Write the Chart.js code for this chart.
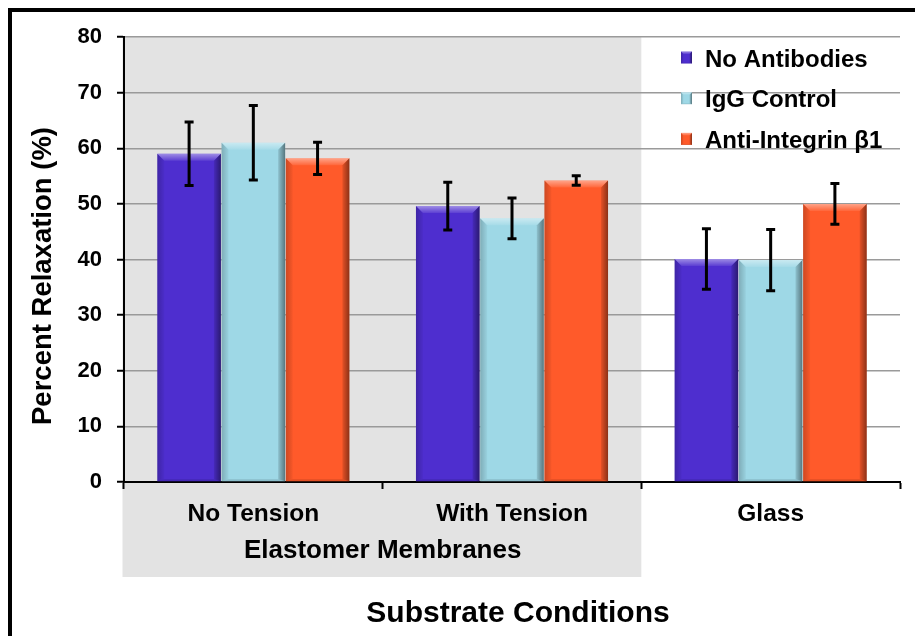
<!DOCTYPE html>
<html>
<head>
<meta charset="utf-8">
<script src="https://cdn.jsdelivr.net/npm/chart.js@4.4.1/dist/chart.umd.min.js"></script>
<style>
  html, body { margin: 0; padding: 0; background: #fff; overflow: hidden; }
  #wrap { position: relative; width: 915px; height: 636px; }
  #frame { position: absolute; left: 8px; top: 8px; width: 2000px; height: 2000px; border: 4px solid #000; pointer-events: none; }
</style>
</head>
<body>
<div id="wrap">
  <canvas id="chart" width="915" height="636"></canvas>
  <div id="frame"></div>
</div>
<script>
const FONT = "'Liberation Sans', Arial, sans-serif";

// chart data
const categories = ['No Tension', 'With Tension', 'Glass'];
const seriesNames = ['No Antibodies', 'IgG Control', 'Anti-Integrin β1'];
const noAntibodies = [59.0, 49.6, 40.1];
const igGControl = [61.0, 47.4, 39.9];
const antiIntegrin = [58.2, 54.2, 50.0];
const noAntibodiesErr = [5.7, 4.3, 5.45];
const igGControlErr = [6.7, 3.65, 5.5];
const antiIntegrinErr = [2.9, 0.85, 3.65];
const seriesColors = ['#4e2ecf', '#9ed8e6', '#ff5a2a'];
const groupLabel = 'Elastomer Membranes';
const groupCount = 2; // first two categories are membranes
const xTitle = 'Substrate Conditions';
const yTitle = 'Percent Relaxation (%)';

// shaded panel behind the membrane categories, plus axis titles
const panelPlugin = {
  id: 'panel',
  beforeDraw(chart) {
    const { ctx, chartArea, scales: { x } } = chart;
    const edge = (x.getPixelForValue(groupCount - 1) + x.getPixelForValue(groupCount)) / 2;
    ctx.save();
    ctx.fillStyle = '#e3e3e3';
    ctx.fillRect(chartArea.left - 1.5, chartArea.top, edge - chartArea.left + 1.5, chartArea.bottom - chartArea.top + 95);
    ctx.restore();
  },
  afterDraw(chart) {
    const { ctx, chartArea, scales: { x } } = chart;
    const edge = (x.getPixelForValue(groupCount - 1) + x.getPixelForValue(groupCount)) / 2;
    ctx.save();
    ctx.fillStyle = '#000';
    ctx.textAlign = 'center';
    ctx.textBaseline = 'alphabetic';
    ctx.font = 'bold 26px ' + FONT;
    ctx.fillText(groupLabel, (chartArea.left + edge) / 2, chartArea.bottom + 76);
    ctx.font = 'bold 30px ' + FONT;
    ctx.fillText(xTitle, 518, 622);
    ctx.translate(51, 276);
    ctx.rotate(-Math.PI / 2);
    ctx.font = 'bold 27.5px ' + FONT;
    ctx.fillText(yTitle, 0, 0);
    ctx.restore();
  }
};

function shade(ctx, pts, style) {
  ctx.beginPath();
  ctx.moveTo(pts[0][0], pts[0][1]);
  for (let i = 1; i < pts.length; i++) ctx.lineTo(pts[i][0], pts[i][1]);
  ctx.closePath();
  ctx.fillStyle = style;
  ctx.fill();
}

// bevelled look on each bar
function bevel(ctx, l, t, r, b, s) {
  let g = ctx.createLinearGradient(0, t, 0, t + s);
  g.addColorStop(0, 'rgba(255,255,255,0.45)');
  g.addColorStop(0.4, 'rgba(255,255,255,0.3)');
  g.addColorStop(1, 'rgba(255,255,255,0.08)');
  shade(ctx, [[l, t], [r, t], [r - s, t + s], [l + s, t + s]], g);
  g = ctx.createLinearGradient(r - s, 0, r, 0);
  g.addColorStop(0, 'rgba(0,0,0,0.1)');
  g.addColorStop(1, 'rgba(0,0,0,0.45)');
  shade(ctx, [[r, t], [r, b], [r - s, b - s * 0.3], [r - s, t + s]], g);
  g = ctx.createLinearGradient(l, 0, l + s, 0);
  g.addColorStop(0, 'rgba(0,0,0,0.2)');
  g.addColorStop(1, 'rgba(0,0,0,0.03)');
  shade(ctx, [[l, t], [l + s, t + s], [l + s, b - s * 0.3], [l, b]], g);
  shade(ctx, [[l, b], [l + s, b - s * 0.3], [r - s, b - s * 0.3], [r, b]], 'rgba(0,0,0,0.12)');
}

const barPlugin = {
  id: 'barStyle',
  afterDatasetsDraw(chart) {
    const { ctx, scales: { y } } = chart;
    ctx.save();
    chart.data.datasets.forEach((ds, i) => {
      chart.getDatasetMeta(i).data.forEach(el => {
        const p = el.getProps(['x', 'y', 'base', 'width'], true);
        bevel(ctx, p.x - p.width / 2, p.y, p.x + p.width / 2, p.base, 7);
      });
    });
    // error bars
    ctx.strokeStyle = '#000';
    ctx.lineWidth = 3;
    ctx.lineCap = 'butt';
    chart.data.datasets.forEach((ds, i) => {
      chart.getDatasetMeta(i).data.forEach((el, j) => {
        const v = ds.data[j], e = ds.errors[j];
        const x = el.getProps(['x'], true).x;
        const top = y.getPixelForValue(v + e), bot = y.getPixelForValue(v - e);
        ctx.beginPath();
        ctx.moveTo(x, top); ctx.lineTo(x, bot);
        ctx.moveTo(x - 4.5, top); ctx.lineTo(x + 4.5, top);
        ctx.moveTo(x - 4.5, bot); ctx.lineTo(x + 4.5, bot);
        ctx.stroke();
      });
    });
    ctx.restore();
  }
};

// legend in the upper right corner
const legendPlugin = {
  id: 'cornerLegend',
  afterDraw(chart) {
    const { ctx } = chart;
    ctx.save();
    ctx.font = 'bold 24px ' + FONT;
    ctx.textBaseline = 'alphabetic';
    ctx.textAlign = 'left';
    chart.data.datasets.forEach((ds, i) => {
      const base = 66.5 + i * 40.7;
      ctx.fillStyle = ds.backgroundColor;
      ctx.fillRect(681, base - 15, 11, 12);
      bevel(ctx, 681, base - 15, 692, base - 3, 2.5);
      ctx.fillStyle = '#000';
      ctx.fillText(ds.label, 705, base);
    });
    ctx.restore();
  }
};

const values = [noAntibodies, igGControl, antiIntegrin];
const errs = [noAntibodiesErr, igGControlErr, antiIntegrinErr];

new Chart(document.getElementById('chart'), {
  type: 'bar',
  data: {
    labels: categories,
    datasets: seriesNames.map((name, i) => ({
      label: name,
      data: values[i],
      errors: errs[i],
      backgroundColor: seriesColors[i],
      borderWidth: 0,
      barPercentage: 0.99,
      categoryPercentage: 0.745
    }))
  },
  options: {
    responsive: false,
    animation: false,
    layout: { padding: { left: 25, right: 15, top: 37, bottom: 8 } },
    plugins: { legend: { display: false }, tooltip: { enabled: false } },
    scales: {
      x: {
        grid: { drawOnChartArea: false, drawTicks: true, tickLength: 7, tickColor: '#000', tickWidth: 2, offset: true },
        border: { color: '#000', width: 2 },
        ticks: { color: '#000', padding: 11, font: { family: FONT, size: 24.5, weight: 'bold' } },
        afterFit: s => { s.height = 146; }
      },
      y: {
        min: 0,
        max: 80,
        grid: { color: '#9a9a9a', lineWidth: 1.5, tickColor: '#000', tickLength: 7, tickWidth: 2 },
        border: { color: '#000', width: 2 },
        ticks: { stepSize: 10, color: '#000', padding: 15, font: { family: FONT, size: 22, weight: 'bold' } },
        afterFit: s => { s.width = 99; }
      }
    }
  },
  plugins: [panelPlugin, barPlugin, legendPlugin]
});
</script>
</body>
</html>
